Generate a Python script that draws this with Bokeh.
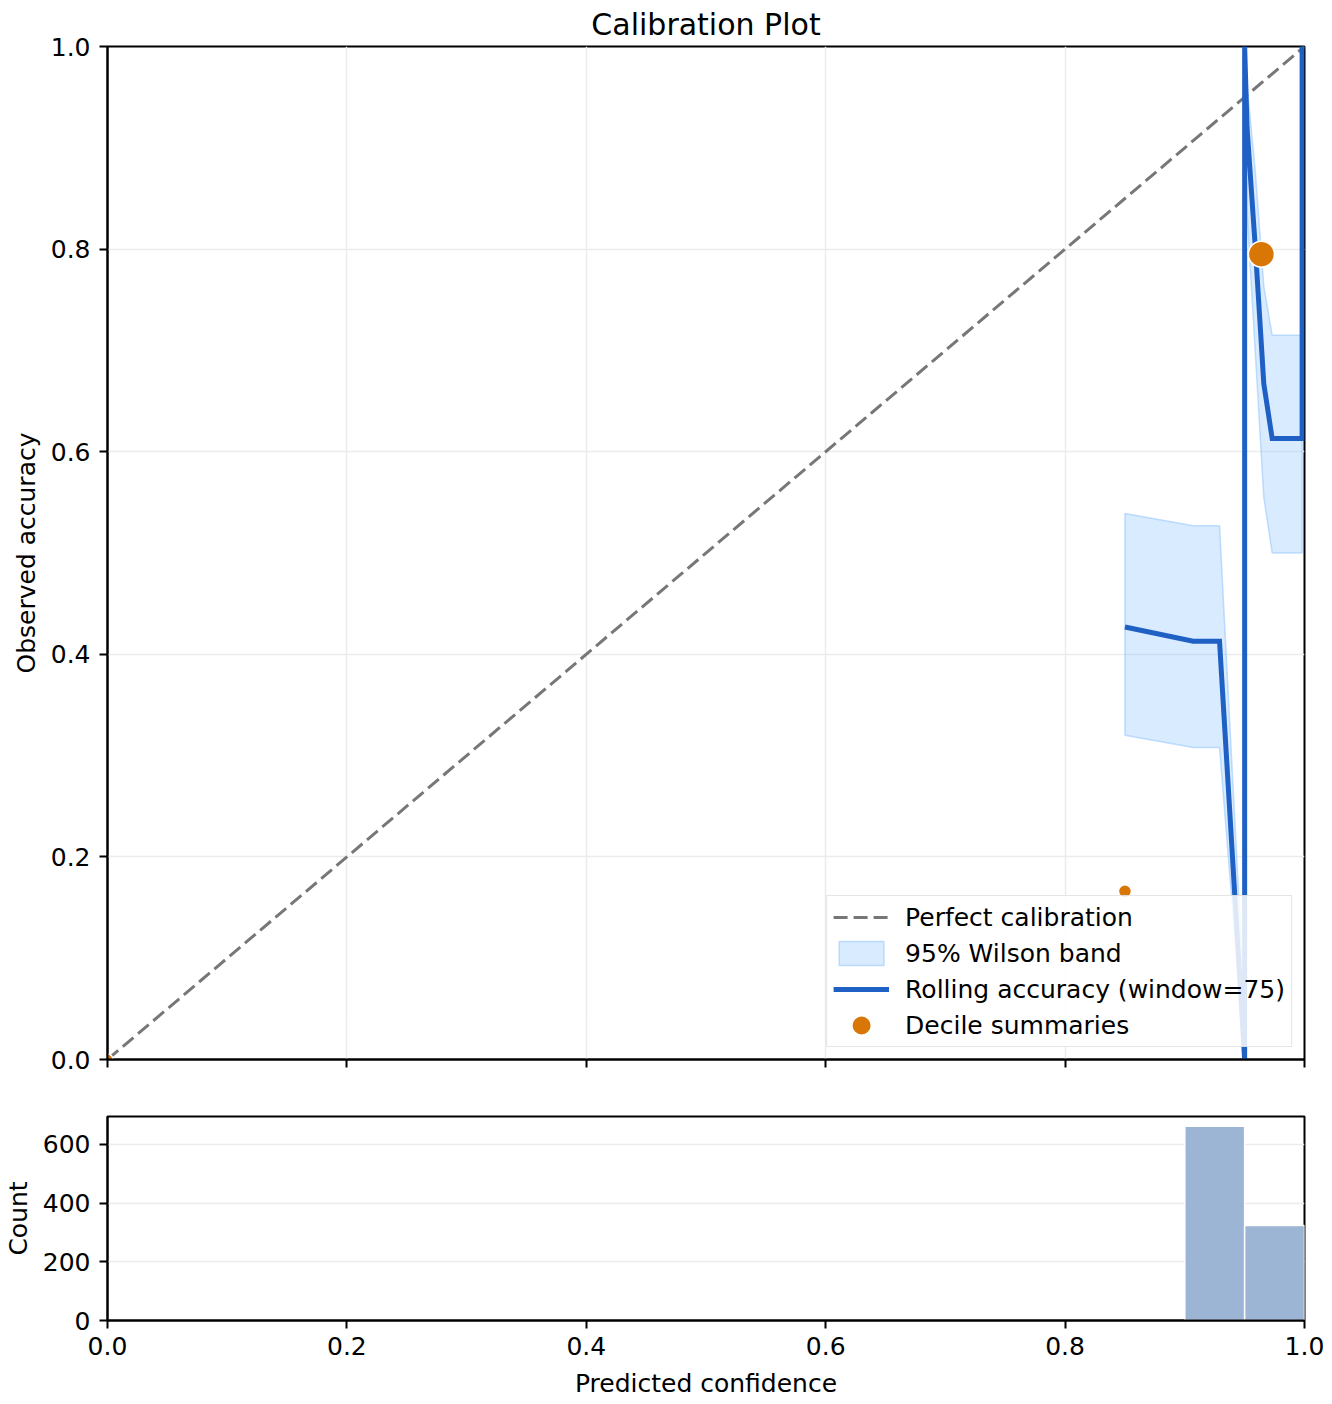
from bokeh.plotting import figure
from bokeh.layouts import column
from bokeh.models import Range1d, FixedTicker, Legend, LegendItem, PrintfTickFormatter
from bokeh.embed import file_html
from bokeh.resources import INLINE

# ---------------- data ----------------
perfect_x = [0.0, 1.0]
perfect_y = [0.0, 1.0]

roll_x = [0.85, 0.907, 0.929, 0.95, 0.95, 0.952, 0.959, 0.966, 0.973, 0.998, 0.998]
roll_y = [0.427, 0.413, 0.413, 0.0, 1.0, 0.92, 0.80, 0.667, 0.613, 0.613, 1.0]
band_lo = [0.320, 0.308, 0.308, 0.0, 0.951, 0.836, 0.696, 0.555, 0.500, 0.500, 0.951]
band_hi = [0.539, 0.527, 0.527, 0.049, 1.0, 0.963, 0.875, 0.763, 0.715, 0.715, 1.0]

decile_x = [0.0, 0.85, 0.964]
decile_y = [0.0, 0.166, 0.795]

hist_edges = [0.9, 0.95, 1.0]
hist_counts = [662, 324]

x_ticks = [0.0, 0.2, 0.4, 0.6, 0.8, 1.0]
y_ticks = [0.0, 0.2, 0.4, 0.6, 0.8, 1.0]
count_ticks = [0, 200, 400, 600]

# ---------------- styles ----------------
FONT = "DejaVu Sans"
TICK_FS = "25px"
LABEL_FS = "25px"
DOT_SIZES = [11, 13, 26]
BLUE = "#1f60c4"
ORANGE = "#d97706"
BAND = "#93c5fd"
GRID = "#ececec"
NAN = float("nan")


def style_axes(p):
    for ax in (p.xaxis, p.yaxis):
        ax.axis_line_color = "black"
        ax.axis_line_width = 2
        ax.major_tick_line_color = "black"
        ax.major_tick_line_width = 2
        ax.major_tick_out = 8
        ax.major_tick_in = 0
        ax.minor_tick_line_color = None
        ax.major_label_text_font = FONT
        ax.major_label_text_font_size = TICK_FS
        ax.major_label_text_color = "black"
        ax.axis_label_text_font = FONT
        ax.axis_label_text_font_size = LABEL_FS
        ax.axis_label_text_font_style = "normal"
        ax.axis_label_text_color = "black"
    p.outline_line_color = "black"
    p.outline_line_width = 2
    p.outline_line_alpha = 1.0


W = 1324

# ---------------- main calibration figure ----------------
p = figure(width=W, height=1087, output_backend="svg", toolbar_location=None,
           x_range=Range1d(0, 1), y_range=Range1d(0, 1),
           min_border_left=107, min_border_right=20, min_border_top=46,
           min_border_bottom=28, title="Calibration Plot")
p.title.text_font = FONT
p.title.text_font_size = "30px"
p.title.text_font_style = "normal"
p.title.text_color = "black"
p.title.align = "center"
p.title.vertical_align = "middle"
p.title.standoff = 8
p.title.offset = 0
style_axes(p)
p.xaxis.ticker = FixedTicker(ticks=x_ticks)
p.yaxis.ticker = FixedTicker(ticks=y_ticks)
p.yaxis.formatter = PrintfTickFormatter(format="%.1f")
p.xaxis.major_label_text_alpha = 0.0
p.xaxis.major_label_text_font_size = "6px"
p.xaxis.major_label_standoff = 0
p.yaxis.major_label_standoff = 9
p.yaxis.axis_label = "Observed accuracy"
p.yaxis.axis_label_standoff = 7
p.xgrid.grid_line_color = GRID
p.ygrid.grid_line_color = GRID
p.xgrid.grid_line_width = 1.5
p.ygrid.grid_line_width = 1.5
p.xgrid.ticker = FixedTicker(ticks=x_ticks)
p.ygrid.ticker = FixedTicker(ticks=y_ticks)

r_perfect = p.line(perfect_x, perfect_y, line_color="#777777", line_width=3,
                   line_dash="14 6")
band_x = roll_x + roll_x[::-1]
band_y = band_hi + band_lo[::-1]
r_band = p.patch(band_x, band_y, fill_color=BAND, fill_alpha=0.35,
                 line_color=BAND, line_alpha=0.55, line_width=1.5)
r_roll = p.line(roll_x, roll_y, line_color=BLUE, line_width=5, line_join="miter")
r_dec = p.scatter(decile_x, decile_y, size=DOT_SIZES, fill_color=ORANGE,
                  line_color="white", line_width=1.5, marker="circle")
# legend-only swatch for the decile markers (NaN position, so nothing is plotted)
r_dec_key = p.scatter(x=[NAN], y=[NAN], size=12, fill_color=ORANGE, line_color=ORANGE,
                      line_width=6, marker="circle")

legend = Legend(items=[
    LegendItem(label="Perfect calibration", renderers=[r_perfect]),
    LegendItem(label="95% Wilson band", renderers=[r_band]),
    LegendItem(label="Rolling accuracy (window=75)", renderers=[r_roll]),
    LegendItem(label="Decile summaries", renderers=[r_dec_key]),
], location="bottom_right")
legend.margin = 12
legend.padding = 6
legend.spacing = 6
legend.glyph_width = 56
legend.glyph_height = 30
legend.label_height = 30
legend.label_standoff = 16
legend.label_text_font = FONT
legend.label_text_font_size = "25px"
legend.label_text_color = "black"
legend.border_line_color = "#cccccc"
legend.border_line_width = 1.5
legend.background_fill_alpha = 0.85
p.add_layout(legend)

# ---------------- histogram ----------------
h = figure(width=W, height=313, output_backend="svg", toolbar_location=None,
           x_range=Range1d(0, 1), y_range=Range1d(0, 695),
           min_border_left=107, min_border_right=20, min_border_top=29,
           min_border_bottom=80)
style_axes(h)
h.xaxis.ticker = FixedTicker(ticks=x_ticks)
h.xaxis.formatter = PrintfTickFormatter(format="%.1f")
h.yaxis.ticker = FixedTicker(ticks=count_ticks)
h.xaxis.major_label_standoff = 8
h.xaxis.axis_label = "Predicted confidence"
h.xaxis.axis_label_standoff = 11
h.yaxis.major_label_standoff = 9
h.yaxis.axis_label = "Count"
h.yaxis.axis_label_standoff = 7
h.xgrid.grid_line_color = None
h.ygrid.grid_line_color = GRID
h.ygrid.grid_line_width = 1.5
h.ygrid.ticker = FixedTicker(ticks=count_ticks)
h.quad(left=hist_edges[:-1], right=hist_edges[1:], bottom=0, top=hist_counts,
       fill_color="#9db5d5", line_color="white", line_width=1.5)

layout = column(p, h, spacing=0)
open("out.html", "w").write(file_html(layout, INLINE))
